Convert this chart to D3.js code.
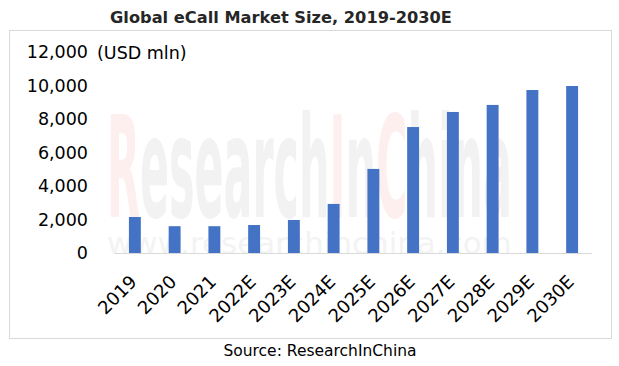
<!DOCTYPE html>
<html><head><meta charset="utf-8">
<script src="https://cdn.jsdelivr.net/npm/d3@7"></script>
<style>body{margin:0;background:#fff}svg{display:block}</style>
</head><body>
<script>
const categories = ["2019","2020","2021","2022E","2023E","2024E","2025E","2026E","2027E","2028E","2029E","2030E"];
const values = [2150,1600,1600,1670,1970,2930,5020,7520,8420,8840,9730,9970];
const yTicks = [0,2000,4000,6000,8000,10000,12000];
const title = "Global eCall Market Size, 2019-2030E";
const unitLabel = "(USD mln)";
const source = "Source: ResearchInChina";
const watermarkParts = ["R","esearch","I","n","C","hina"];
const watermarkUrl = "www.researchinchina.com";

const W = 619, H = 366;
const svg = d3.select("body").append("svg").attr("width", W).attr("height", H);
const font = "'DejaVu Sans', Verdana, sans-serif";

svg.append("rect").attr("x",9.5).attr("y",30.5).attr("width",602).attr("height",308)
  .attr("fill","#fff").attr("stroke","#d9d9d9");

const tt = svg.append("text").attr("x",281).attr("y",23).attr("text-anchor","middle")
  .attr("font-family",font).attr("font-weight","bold").attr("font-size",16.5).attr("fill","#262626").text(title);
const tw = tt.node().getComputedTextLength();
tt.attr("transform",`translate(281,0) scale(${342/tw},1) translate(-281,0)`);

const x = d3.scaleBand().domain(categories).range([115,592]).paddingInner(0.7).paddingOuter(0.35);
const y = d3.scaleLinear().domain([0,12000]).range([253,52]);

// watermark: segments laid side by side, then squeezed horizontally
const wmG = svg.append("g");
const wmInner = wmG.append("g");
let cx = 0;
watermarkParts.forEach((p,i)=>{
  const t = wmInner.append("text").attr("x",cx).attr("y",0)
    .attr("font-family",font).attr("font-weight","bold").attr("font-size",140)
    .attr("fill", (p==="R"||p==="I"||p==="C") ? "#fcefee" : "#f2f2f2").text(p);
  cx += t.node().getComputedTextLength();
});
wmG.attr("transform",`translate(107,217) scale(${405/cx},1)`);

const urlG = svg.append("g");
const ut = urlG.append("text").attr("x",0).attr("y",0)
  .attr("font-family",font).attr("font-size",30).attr("fill","#f3f3f3").text(watermarkUrl);
const ul = ut.node().getComputedTextLength();
urlG.attr("transform",`translate(107,254) scale(${405/ul},1)`);

// bars
svg.append("g").selectAll("rect").data(values).join("rect")
  .attr("x",(d,i)=>x(categories[i])).attr("width",x.bandwidth())
  .attr("y",d=>y(d)).attr("height",d=>y(0)-y(d)).attr("fill","#4472c4");

// baseline
svg.append("line").attr("x1",115).attr("x2",592).attr("y1",253.5).attr("y2",253.5).attr("stroke","#d9d9d9");

// y axis
const yAxis = svg.append("g").attr("transform","translate(88,0)")
  .call(d3.axisLeft(y).tickValues(yTicks).tickFormat(d3.format(",")).tickSize(0).tickPadding(0));
yAxis.select(".domain").remove();
yAxis.selectAll("text").attr("font-family",font).attr("font-size",17.5).attr("fill","#000");

svg.append("text").attr("x",97).attr("y",59).attr("font-family",font).attr("font-size",17.5).attr("fill","#000").text(unitLabel);

// x axis
const xAxis = svg.append("g").attr("transform","translate(0,253)")
  .call(d3.axisBottom(x).tickSize(0).tickPadding(0));
xAxis.select(".domain").remove();
xAxis.selectAll("text").attr("font-family",font).attr("font-size",18).attr("fill","#000")
  .attr("text-anchor","end").attr("dy",null).attr("y",0)
  .attr("transform","translate(3,30) rotate(-45)");

svg.append("text").attr("x",320).attr("y",356).attr("text-anchor","middle")
  .attr("font-family",font).attr("font-size",15.5).attr("fill","#000").text(source);
</script>
</body></html>
